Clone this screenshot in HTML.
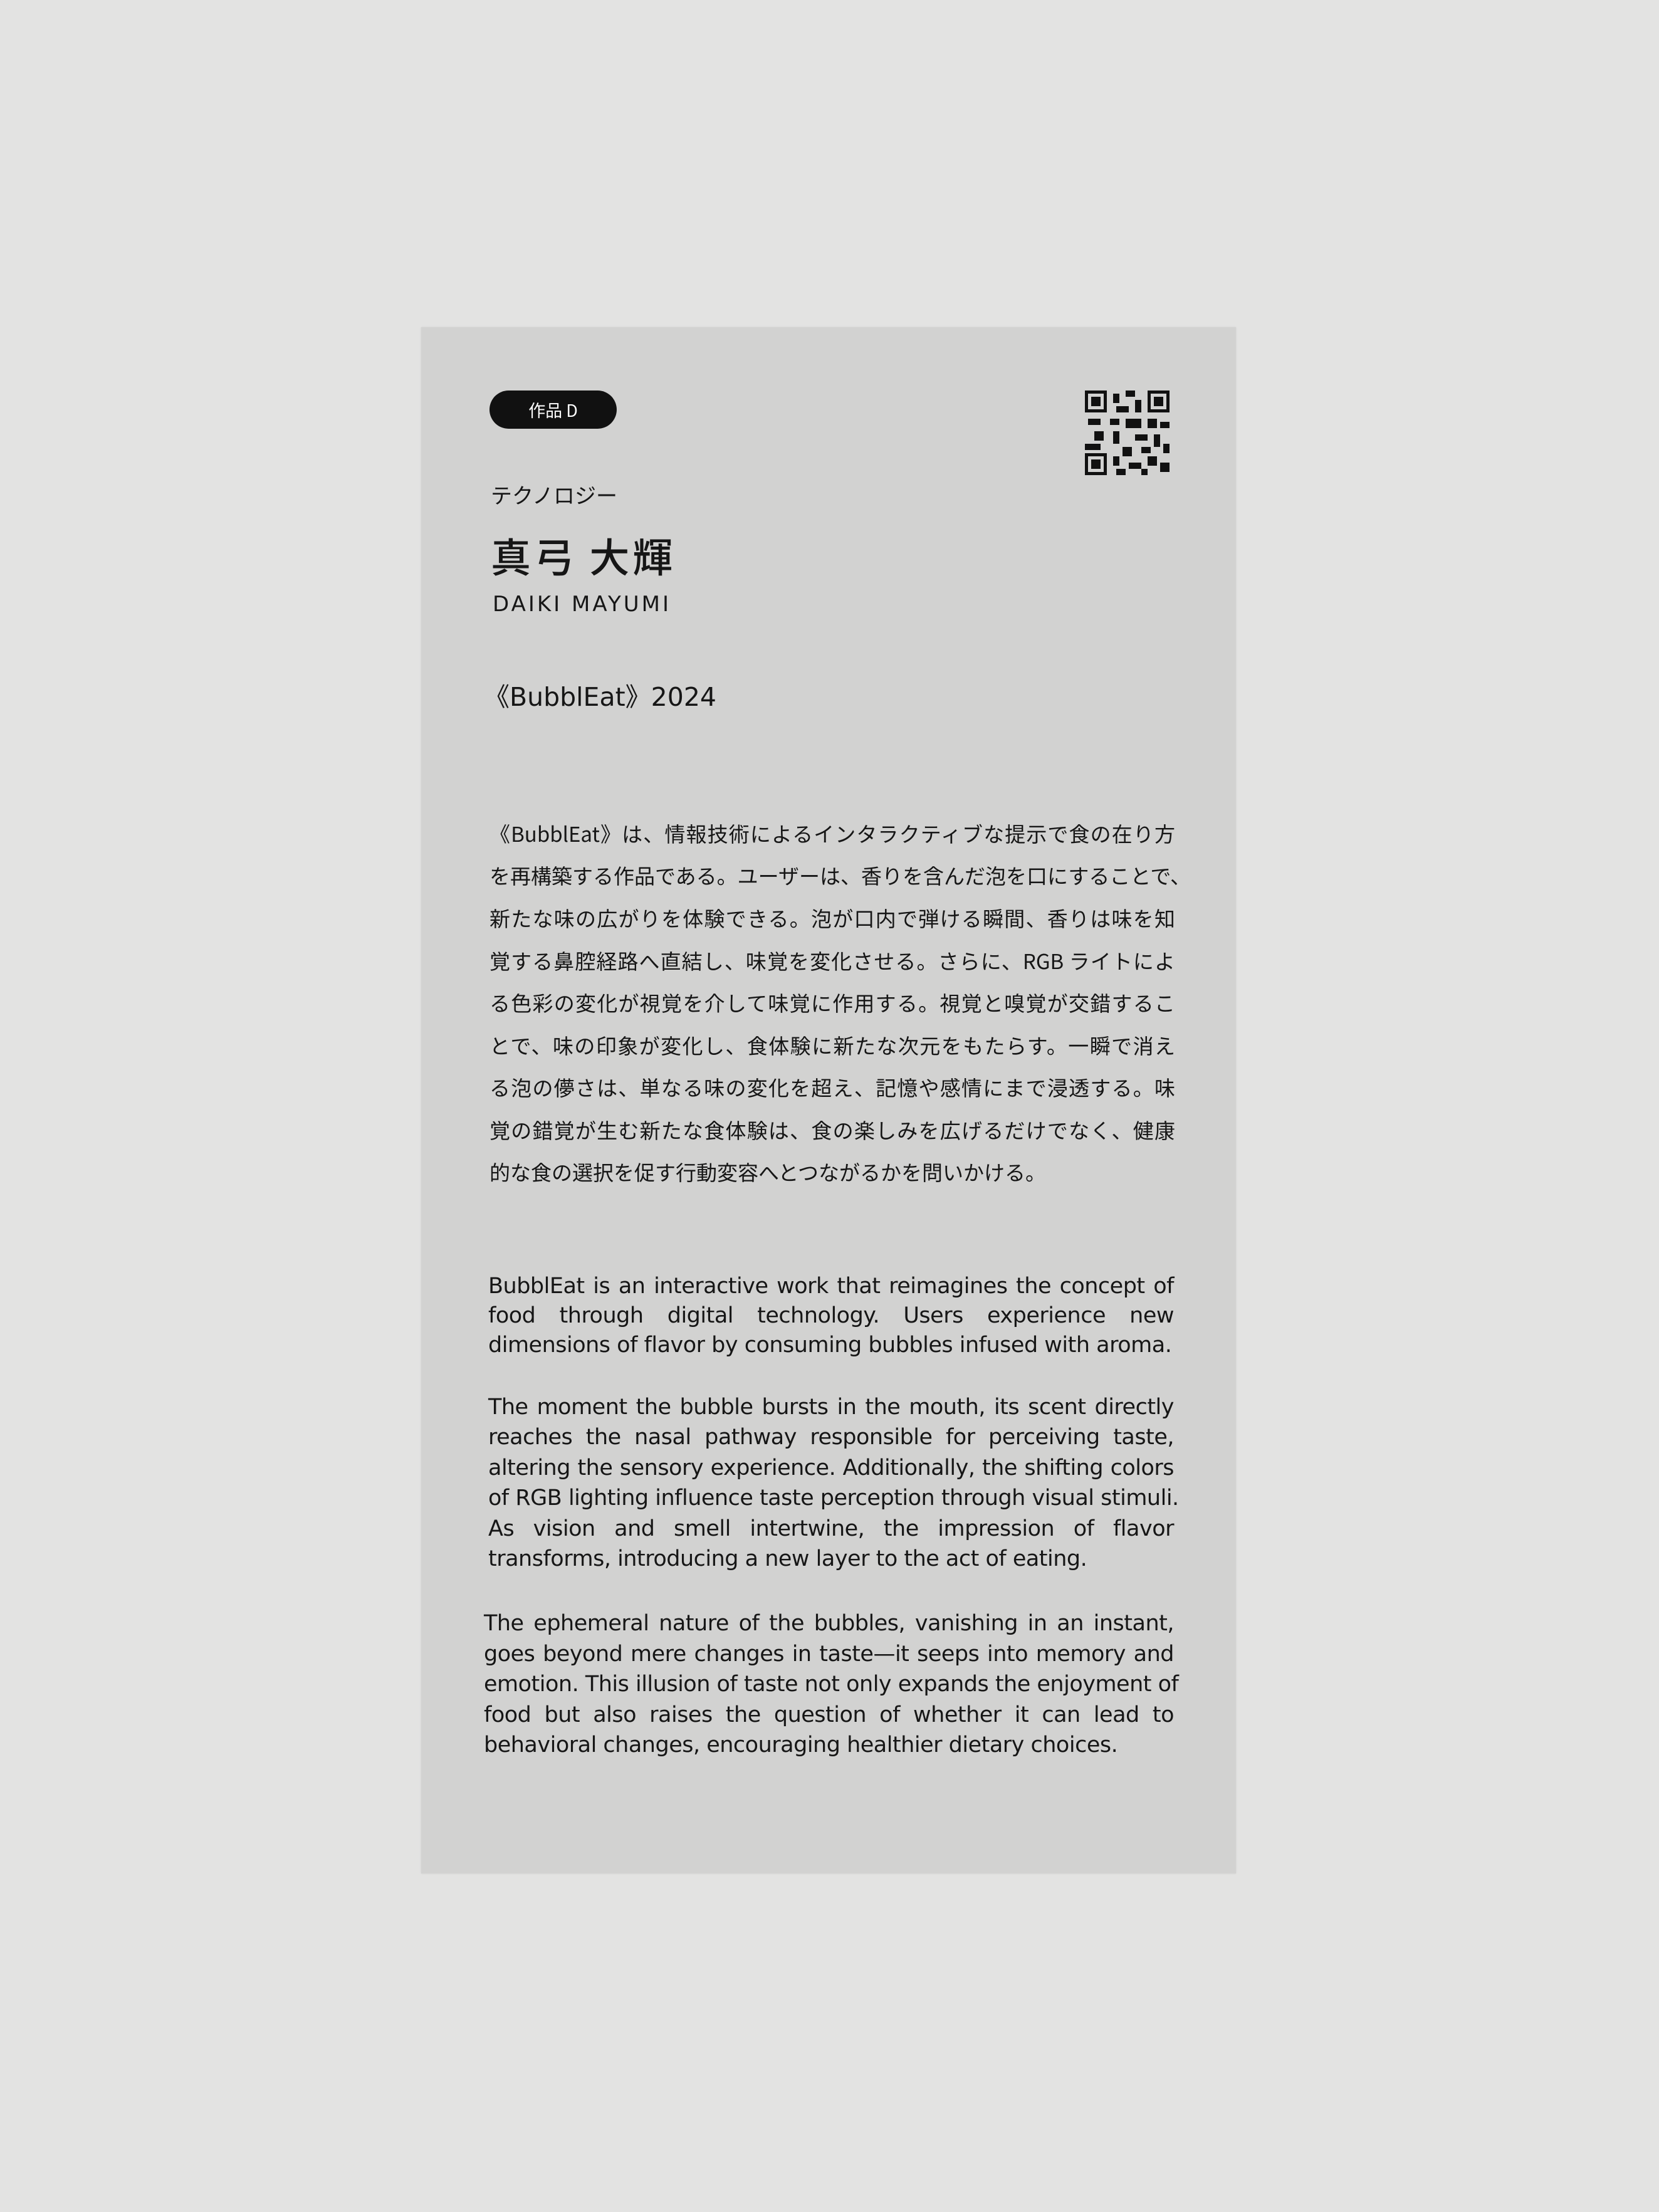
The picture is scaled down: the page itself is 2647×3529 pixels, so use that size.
<!DOCTYPE html>
<html><head><meta charset="utf-8">
<style>
html,body{margin:0;padding:0}
body{width:2647px;height:3529px;background:#e3e3e2;position:relative;overflow:hidden;font-family:"Liberation Sans","Noto Sans CJK JP",sans-serif;color:#161616}
#panel{position:absolute;left:672px;top:522px;width:1300px;height:2467px;background:#d2d2d1;box-shadow:0 0 3px rgba(0,0,0,0.08)}
.a{position:absolute;white-space:nowrap}
.jl{position:absolute;left:781px;width:1094px;font-size:33px;line-height:44px;text-align:justify;text-align-last:justify;white-space:nowrap;font-family:"Noto Sans CJK JP",sans-serif}
.el{position:absolute;left:779px;width:1094px;font-size:35px;line-height:44px;text-align:justify;text-align-last:justify;white-space:nowrap;font-family:"DejaVu Sans","Liberation Sans",sans-serif;letter-spacing:-0.5px}
.last{text-align-last:left}
</style></head><body>
<div id="panel"></div>
<div class="a" style="left:781px;top:623px;width:203px;height:61px;border-radius:31px;background:#111;color:#fff;font-size:27px;line-height:61px;text-align:center;font-family:'Noto Sans CJK JP',sans-serif">作品 D</div>
<svg class="a" style="left:1731px;top:623px" width="135" height="135" viewBox="0 0 27 27">
<rect width="27" height="27" fill="#d2d2d1"/>
<g fill="#111">
<rect x="0" y="0" width="7" height="7"/><rect x="20" y="0" width="7" height="7"/><rect x="0" y="20" width="7" height="7"/>
</g>
<g fill="#d2d2d1"><rect x="1" y="1" width="5" height="5"/><rect x="21" y="1" width="5" height="5"/><rect x="1" y="21" width="5" height="5"/></g>
<g fill="#111"><rect x="2" y="2" width="3" height="3"/><rect x="22" y="2" width="3" height="3"/><rect x="2" y="22" width="3" height="3"/>
<rect x="9" y="1" width="2" height="3"/><rect x="13" y="0" width="3" height="2"/><rect x="10" y="5" width="4" height="2"/><rect x="16" y="3" width="2" height="4"/>
<rect x="8" y="9" width="3" height="2"/><rect x="13" y="9" width="5" height="3"/><rect x="1" y="9" width="4" height="2"/><rect x="20" y="9" width="3" height="3"/><rect x="24" y="10" width="3" height="2"/>
<rect x="3" y="13" width="3" height="3"/><rect x="9" y="13" width="2" height="4"/><rect x="16" y="14" width="4" height="2"/><rect x="22" y="14" width="2" height="4"/>
<rect x="0" y="17" width="5" height="2"/><rect x="12" y="18" width="3" height="3"/><rect x="18" y="18" width="3" height="2"/><rect x="25" y="17" width="2" height="3"/>
<rect x="9" y="21" width="2" height="3"/><rect x="14" y="23" width="4" height="2"/><rect x="20" y="21" width="3" height="3"/><rect x="24" y="23" width="3" height="3"/><rect x="10" y="25" width="3" height="2"/><rect x="18" y="25" width="2" height="2"/></g>
</svg>
<div class="a" style="left:783px;top:764px;font-size:34px;font-family:'Noto Sans CJK JP',sans-serif">テクノロジー</div>
<div class="a" style="left:783px;top:840px;font-size:64px;font-weight:500;letter-spacing:5px;font-family:'Noto Sans CJK JP',sans-serif">真弓 大輝</div>
<div class="a" style="left:786px;top:944px;font-size:34px;letter-spacing:4px;font-family:'DejaVu Sans',sans-serif">DAIKI MAYUMI</div>
<div class="a" style="left:772px;top:1078px;font-size:41px;font-family:'DejaVu Sans','Noto Sans CJK JP',sans-serif">《BubblEat》2024</div>

<div>
<div class="jl" style="top:1307px">《BubblEat》は、情報技術によるインタラクティブな提示で食の在り方</div>
<div class="jl" style="top:1374px">を再構築する作品である。ユーザーは、香りを含んだ泡を口にすることで、</div>
<div class="jl" style="top:1442px">新たな味の広がりを体験できる。泡が口内で弾ける瞬間、香りは味を知</div>
<div class="jl" style="top:1510px">覚する鼻腔経路へ直結し、味覚を変化させる。さらに、RGB ライトによ</div>
<div class="jl" style="top:1577px">る色彩の変化が視覚を介して味覚に作用する。視覚と嗅覚が交錯するこ</div>
<div class="jl" style="top:1645px">とで、味の印象が変化し、食体験に新たな次元をもたらす。一瞬で消え</div>
<div class="jl" style="top:1712px">る泡の儚さは、単なる味の変化を超え、記憶や感情にまで浸透する。味</div>
<div class="jl" style="top:1780px">覚の錯覚が生む新たな食体験は、食の楽しみを広げるだけでなく、健康</div>
<div class="jl last" style="top:1847px">的な食の選択を促す行動変容へとつながるかを問いかける。</div>
</div>

<div>
<div class="el" style="top:2030px">BubblEat is an interactive work that reimagines the concept of</div>
<div class="el" style="top:2077px">food through digital technology. Users experience new</div>
<div class="el last" style="top:2124px">dimensions of flavor by consuming bubbles infused with aroma.</div>
<div class="el" style="top:2223px">The moment the bubble bursts in the mouth, its scent directly</div>
<div class="el" style="top:2271px">reaches the nasal pathway responsible for perceiving taste,</div>
<div class="el" style="top:2320px">altering the sensory experience. Additionally, the shifting colors</div>
<div class="el" style="top:2368px">of RGB lighting influence taste perception through visual stimuli.</div>
<div class="el" style="top:2417px">As vision and smell intertwine, the impression of flavor</div>
<div class="el last" style="top:2465px">transforms, introducing a new layer to the act of eating.</div>
<div class="el" style="top:2568px;left:772px;width:1101px">The ephemeral nature of the bubbles, vanishing in an instant,</div>
<div class="el" style="top:2617px;left:772px;width:1101px">goes beyond mere changes in taste—it seeps into memory and</div>
<div class="el" style="top:2665px;left:772px;width:1101px">emotion. This illusion of taste not only expands the enjoyment of</div>
<div class="el" style="top:2714px;left:772px;width:1101px">food but also raises the question of whether it can lead to</div>
<div class="el last" style="top:2762px;left:772px;width:1101px">behavioral changes, encouraging healthier dietary choices.</div>
</div>
</body></html>
